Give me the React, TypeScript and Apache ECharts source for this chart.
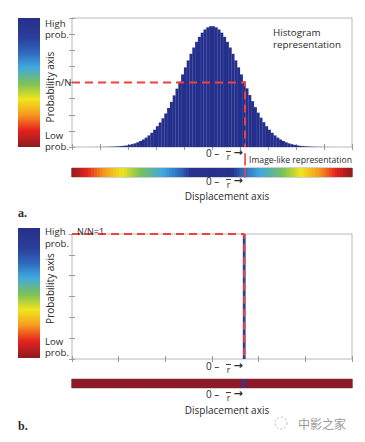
import React, { useEffect, useRef } from "react";
import * as echarts from "echarts";

// ---------- data ----------
const BIN_COUNT = 100;
// histogram heights, left half (bins 0..49) and right half (bins 50..99)
const HIST_LEFT = [
  0.00009, 0.00014, 0.00022, 0.00034, 0.00052, 0.0008, 0.0012, 0.0018, 0.0026, 0.0038,
  0.0055, 0.008, 0.011, 0.016, 0.022, 0.031, 0.042, 0.057, 0.076, 0.1,
  0.134, 0.175, 0.227, 0.292, 0.371, 0.468, 0.584, 0.72, 0.885, 1.07,
  1.29, 1.52, 1.78, 2.08, 2.42, 2.8, 3.2, 3.62, 4.05, 4.5,
  4.94, 5.37, 5.78, 6.17, 6.52, 6.83, 7.09, 7.29, 7.42, 7.49,
];
const HIST_RIGHT = [
  7.49, 7.42, 7.29, 7.09, 6.83, 6.52, 6.17, 5.78, 5.37, 4.94,
  4.5, 4.07, 3.64, 3.22, 2.84, 2.47, 2.13, 1.82, 1.54, 1.29,
  1.07, 0.885, 0.72, 0.584, 0.468, 0.371, 0.292, 0.227, 0.175, 0.134,
  0.1, 0.076, 0.057, 0.042, 0.031, 0.022, 0.016, 0.011, 0.008, 0.0055,
  0.0038, 0.0026, 0.0018, 0.0012, 0.0008, 0.00052, 0.00034, 0.00022, 0.00014, 0.00009,
];
const HIST = [...HIST_LEFT, ...HIST_RIGHT];
const N_OVER_N = 4; // n/N level
const R_POS = 61.8; // displacement r (in bins)
const Y_MAX_A = 8;
const IMPULSE_BIN = 61;
const IMPULSE_VALUE = 1; // N/N = 1
const IMPULSE = Array.from({ length: BIN_COUNT }, (_, i) => (i === IMPULSE_BIN ? IMPULSE_VALUE : 0));

// ---------- styles ----------
const FONT = '"Open Sans", "DejaVu Sans", sans-serif';
const TXT = "#2a2a2a";
const RED = "#f0413c";
const NAVY = "#25308c";
const JET_V: [number, string][] = [
  [0, "#27308a"],
  [0.15, "#2a3d98"],
  [0.27, "#2f68bd"],
  [0.38, "#40a8e0"],
  [0.51, "#7cc257"],
  [0.63, "#f1e51d"],
  [0.75, "#f6991f"],
  [0.87, "#e6221f"],
  [1, "#8c1b20"],
];
// colour stops for log10 of the histogram value (image-like strip)
const LOG_STOPS: [number, string][] = [
  [-4.2, "#8c1b20"],
  [-3.1, "#e6221f"],
  [-2.08, "#f6991f"],
  [-1.17, "#f1e51d"],
  [-0.43, "#7cc257"],
  [0.28, "#40a8e0"],
  [0.64, "#2d68bd"],
  [0.77, "#27308a"],
  [0.9, "#27308a"],
];

function hex(h: string) {
  return [1, 3, 5].map((k) => parseInt(h.slice(k, k + 2), 16));
}
function sampleStops(stops: [number, string][], min: number, max: number, n: number) {
  const out: string[] = [];
  for (let k = 0; k < n; k++) {
    const t = min + ((max - min) * k) / (n - 1);
    let j = 0;
    while (j < stops.length - 2 && t > stops[j + 1][0]) j++;
    const [t0, c0] = stops[j];
    const [t1, c1] = stops[j + 1];
    const f = Math.min(1, Math.max(0, (t - t0) / (t1 - t0)));
    const a = hex(c0), b = hex(c1);
    const c = a.map((v, q) => Math.round(v + (b[q] - v) * f));
    out.push("rgb(" + c.join(",") + ")");
  }
  return out;
}

const tickAxis = (gridIndex: number, position: string, max: number, interval: number) => ({
  type: "value",
  gridIndex,
  position,
  min: 0,
  max,
  interval,
  axisLine: { show: false },
  axisTick: { show: true, inside: true, length: 3, lineStyle: { color: "#9a9a9a", width: 1 } },
  axisLabel: { show: false },
  splitLine: { show: false },
});
const hiddenVal = (gridIndex: number, max: number) => ({
  type: "value",
  gridIndex,
  min: 0,
  max,
  show: false,
  splitLine: { show: false },
});

const txt = (text: string, x: number, y: number, size: number, extra: any = {}) => ({
  type: "text",
  x,
  y,
  z: 100,
  style: {
    text,
    fill: extra.fill || TXT,
    font: (extra.weight || "normal") + " " + size + "px " + (extra.family || FONT),
    textAlign: extra.align || "left",
    textVerticalAlign: "middle",
    lineHeight: extra.lineHeight || Math.floor(size),
  },
  rotation: extra.rotation || 0,
});

// "0 – r̄ →" marker under the axis
const zeroR = (y: number) => ({
  type: "group",
  x: 206,
  y,
  children: [
    txt("0 –", 0, 0, 10),
    {
      type: "line",
      z: 100,
      shape: { x1: 20, y1: -1.5, x2: 25, y2: -1.5 },
      style: { stroke: TXT, lineWidth: 0.9 },
    },
    txt("r", 22.5, 3, 8.5, { align: "center" }),
    txt("→", 27.5, -1, 11, { weight: "bold", family: '"DejaVu Sans", sans-serif' }),
  ],
});

const probKey = (top: number, h: number, highY: number, lowY: number, axisY: number) => [
  {
    type: "rect",
    shape: { x: 18, y: top, width: 22, height: h },
    style: {
      fill: new echarts.graphic.LinearGradient(
        0, 0, 0, 1,
        JET_V.map(([offset, color]) => ({ offset, color }))
      ),
    },
  },
  txt("High", 45, highY - 0.5, 9.6),
  txt("prob.", 45, highY + 11, 9.6),
  txt("Low", 45, lowY - 0.5, 9.6),
  txt("prob.", 45, lowY + 11, 9.6),
  txt("Probability axis", 49.5, axisY, 10, { align: "center", rotation: Math.PI / 2 }),
];

function buildOption() {
  const logColors = sampleStops(LOG_STOPS, -4.2, 0.9, 80);
  return {
    animation: false,
    backgroundColor: "#ffffff",
    grid: [
      { left: 72, top: 18, width: 280, height: 129, show: true, borderColor: "#b8b8b8", borderWidth: 1 },
      { left: 72, top: 168, width: 280, height: 9, show: true, borderColor: "#666", borderWidth: 0.6 },
      { left: 72, top: 234, width: 280, height: 125, show: true, borderColor: "#b8b8b8", borderWidth: 1 },
      { left: 72, top: 379, width: 280, height: 9, show: true, borderColor: "#666", borderWidth: 0.6 },
    ],
    xAxis: [
      tickAxis(0, "bottom", BIN_COUNT, 10),
      tickAxis(0, "top", BIN_COUNT, 10),
      hiddenVal(1, BIN_COUNT),
      tickAxis(2, "bottom", BIN_COUNT, BIN_COUNT / 6),
      tickAxis(2, "top", BIN_COUNT, BIN_COUNT / 6),
      hiddenVal(3, BIN_COUNT),
    ],
    yAxis: [
      tickAxis(0, "left", Y_MAX_A, 1),
      tickAxis(0, "right", Y_MAX_A, 1),
      hiddenVal(1, 1),
      tickAxis(2, "left", IMPULSE_VALUE, IMPULSE_VALUE / 6),
      tickAxis(2, "right", IMPULSE_VALUE, IMPULSE_VALUE / 6),
      hiddenVal(3, 1),
    ],
    visualMap: [
      {
        type: "continuous",
        show: false,
        seriesIndex: 2,
        dimension: 2,
        min: -4.2,
        max: 0.9,
        inRange: { color: logColors },
      },
      {
        type: "continuous",
        show: false,
        seriesIndex: 7,
        dimension: 2,
        min: 0,
        max: IMPULSE_VALUE,
        inRange: { color: ["#8d1b27", "#2a3a9c"] },
      },
    ],
    series: [
      {
        type: "bar",
        xAxisIndex: 0,
        yAxisIndex: 0,
        data: HIST.map((v, i) => [i + 0.5, v]),
        barWidth: 3,
        itemStyle: { color: NAVY },
        emphasis: { disabled: true },
      },
      {
        type: "line",
        xAxisIndex: 0,
        yAxisIndex: 0,
        data: [[0, N_OVER_N], [R_POS, N_OVER_N], [R_POS, 0]],
        symbol: "none",
        z: 5,
        lineStyle: { color: RED, width: 2, type: [8, 5] },
      },
      {
        // image-like strip: one cell per bin, coloured by log10 of its height
        type: "bar",
        xAxisIndex: 2,
        yAxisIndex: 2,
        data: HIST.map((v, i) => [i + 0.5, 1, Math.log10(v)]),
        encode: { x: 0, y: 1 },
        barWidth: 4,
        emphasis: { disabled: true },
      },
      {
        type: "line",
        xAxisIndex: 0,
        yAxisIndex: 0,
        clip: false,
        data: [[R_POS, -0.38], [R_POS, -1.15]],
        symbol: "none",
        z: 6,
        lineStyle: { color: RED, width: 1.6 },
      },
      {
        type: "line",
        xAxisIndex: 0,
        yAxisIndex: 0,
        clip: false,
        data: [[R_POS, -1.32], [R_POS, -1.9]],
        symbol: "none",
        z: 6,
        lineStyle: { color: RED, width: 1.6 },
      },
      {
        type: "bar",
        xAxisIndex: 3,
        yAxisIndex: 3,
        data: [[IMPULSE_BIN + 0.5, IMPULSE_VALUE]],
        barWidth: 2.8,
        itemStyle: { color: "#2b3d9e" },
        emphasis: { disabled: true },
      },
      {
        type: "line",
        xAxisIndex: 3,
        yAxisIndex: 3,
        data: [[0, IMPULSE_VALUE], [IMPULSE_BIN + 0.5, IMPULSE_VALUE], [IMPULSE_BIN + 0.5, 0]],
        symbol: "none",
        z: 5,
        lineStyle: { color: RED, width: 2, type: [8, 5] },
      },
      {
        type: "bar",
        xAxisIndex: 5,
        yAxisIndex: 5,
        data: IMPULSE.map((v, i) => [i + 0.5, 1, v]),
        encode: { x: 0, y: 1 },
        barWidth: 4,
        emphasis: { disabled: true },
      },
    ],
    graphic: [
      ...probKey(18, 129, 23.5, 135.5, 87),
      txt("n/N", 71.5, 82, 9.5, { align: "right" }),
      txt("Histogram", 273, 32.5, 9.8),
      txt("representation", 273, 44, 9.8),
      zeroR(153),
      txt("Image-like representation", 249, 160, 8.6),
      zeroR(181),
      txt("Displacement axis", 227, 196, 10, { align: "center" }),
      txt("a.", 18, 213, 12, { weight: "bold", family: '"Liberation Serif", "DejaVu Serif", serif' }),

      ...probKey(228, 130, 232, 341.5, 288.5),
      txt("N/N=1", 77, 231, 9),
      zeroR(366),
      zeroR(394),
      txt("Displacement axis", 227, 409.5, 10, { align: "center" }),
      txt("b.", 18, 426, 12, { weight: "bold", family: '"Liberation Serif", "DejaVu Serif", serif' }),

      {
        type: "circle",
        shape: { cx: 281, cy: 423, r: 6 },
        style: { fill: "none", stroke: "#bbbbbb", lineWidth: 1, lineDash: [2, 2] },
      },
      txt("中影之家", 298, 423, 12, { fill: "#9a9a9a", family: '"Noto Sans CJK SC", sans-serif' }),
    ],
  };
}

export default function App() {
  const ref = useRef<HTMLDivElement>(null);
  useEffect(() => {
    if (!ref.current) return;
    const chart = echarts.init(ref.current, null, { renderer: "svg", width: 365, height: 442 });
    chart.setOption(buildOption() as any);
    return () => chart.dispose();
  }, []);
  return (
    <div style={{ position: "fixed", left: 0, top: 0, width: 365, height: 442, background: "#fff" }}>
      <div ref={ref} style={{ width: 365, height: 442 }} />
    </div>
  );
}
